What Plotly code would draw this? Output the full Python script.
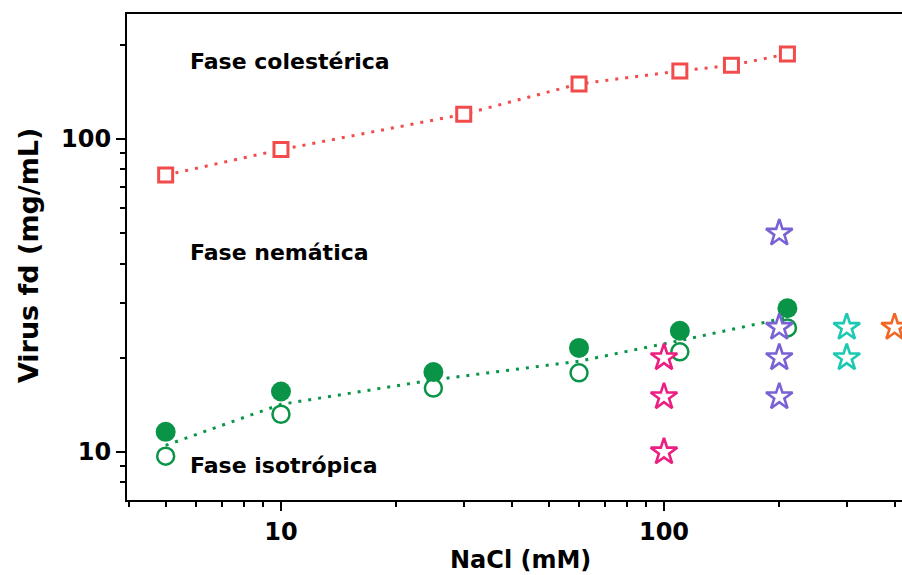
import plotly.graph_objects as go

# ---- data ----
chol_x = [5, 10, 30, 60, 110, 150, 210]
chol_y = [76.7, 92.5, 120, 150, 165, 172, 187]

iso_x = [5, 10, 25, 60, 110, 210]
iso_filled_y = [11.6, 15.6, 18.0, 21.5, 24.4, 28.8]
iso_open_y = [9.7, 13.2, 16.0, 17.9, 20.9, 24.9]
iso_mid_y = [10.5, 14.2, 17.0, 19.5, 22.7, 26.9]

pink_x = [100, 100, 100]
pink_y = [20, 15, 10]
purple_x = [200, 200, 200, 200]
purple_y = [50, 25, 20, 15]
cyan_x = [300, 300]
cyan_y = [25, 20]
orange_x = [400]
orange_y = [25]

x_ticks = [10, 100]
x_minor = [4, 5, 6, 7, 8, 9, 20, 30, 40, 50, 60, 70, 80, 90, 200, 300, 400]
y_ticks = [10, 100]
y_minor = [8, 9, 20, 30, 40, 50, 60, 70, 80, 90, 200]

RED = "#F24B4B"
GREEN = "#0A9447"
PINK = "#EC1F80"
PURPLE = "#7A62D4"
CYAN = "#1CC9B2"
ORANGE = "#F26522"
FONT = "DejaVu Sans"

fig = go.Figure()

fig.add_trace(go.Scatter(x=chol_x, y=chol_y, mode="lines+markers", cliponaxis=False,
                         line=dict(color=RED, width=3, dash="3px,7px"),
                         marker=dict(symbol="square", size=14, color="white",
                                     line=dict(color=RED, width=3))))
fig.add_trace(go.Scatter(x=iso_x, y=iso_mid_y, mode="lines", cliponaxis=False,
                         line=dict(color=GREEN, width=3, dash="3px,7px")))
fig.add_trace(go.Scatter(x=iso_x, y=iso_open_y, mode="markers", cliponaxis=False,
                         marker=dict(symbol="circle", size=17, color="white",
                                     line=dict(color=GREEN, width=2.5))))
fig.add_trace(go.Scatter(x=iso_x, y=iso_filled_y, mode="markers", cliponaxis=False,
                         marker=dict(symbol="circle", size=20, color=GREEN,
                                     line=dict(color=GREEN, width=0))))
for xs, ys, c in [(pink_x, pink_y, PINK), (purple_x, purple_y, PURPLE),
                  (cyan_x, cyan_y, CYAN), (orange_x, orange_y, ORANGE)]:
    fig.add_trace(go.Scatter(x=xs, y=ys, mode="markers", cliponaxis=False,
                             marker=dict(symbol="star", size=20, color="white",
                                         line=dict(color=c, width=2.6))))

labels = [("Fase colestérica", 0.903), ("Fase nemática", 0.510), ("Fase isotrópica", 0.070)]
for txt, yy in labels:
    fig.add_annotation(text=txt, xref="paper", yref="paper", x=0.0787, y=yy,
                       xanchor="left", yanchor="middle", showarrow=False,
                       font=dict(family=FONT, size=22, color="black", weight="bold"))

# axis titles
fig.add_annotation(text="NaCl (mM)", xref="paper", yref="paper", x=0.508, y=-0.1235,
                   xanchor="center", yanchor="middle", showarrow=False,
                   font=dict(family=FONT, size=24, color="black", weight="bold"))
fig.add_annotation(text="Virus fd (mg/mL)", xref="paper", yref="paper", x=-0.1277, y=0.504,
                   xanchor="center", yanchor="middle", showarrow=False, textangle=-90,
                   font=dict(family=FONT, size=27, color="black", weight="bold"))

fig.update_layout(
    width=902, height=575,
    margin=dict(l=127, r=0, t=14, b=75),
    paper_bgcolor="white", plot_bgcolor="white",
    showlegend=False,
    font=dict(family=FONT, color="black"),
)
fig.update_xaxes(type="log", range=[0.598, 2.6214], automargin=False,
                 showgrid=False, zeroline=False,
                 showline=True, linecolor="black", linewidth=2, mirror=True,
                 ticks="outside", ticklen=9, tickwidth=2, tickcolor="black",
                 tickvals=x_ticks, ticktext=[str(v) for v in x_ticks],
                 tickfont=dict(family=FONT, size=24, weight="bold"),
                 minor=dict(tickvals=x_minor, ticks="outside", ticklen=5,
                            tickwidth=2, tickcolor="black", showgrid=False))
fig.update_yaxes(type="log", range=[0.8466, 2.3994], automargin=False,
                 showgrid=False, zeroline=False,
                 showline=True, linecolor="black", linewidth=2, mirror=False,
                 ticks="outside", ticklen=9, tickwidth=2, tickcolor="black",
                 tickvals=y_ticks, ticktext=[str(v) for v in y_ticks],
                 tickfont=dict(family=FONT, size=24, weight="bold"),
                 minor=dict(tickvals=y_minor, ticks="outside", ticklen=5,
                            tickwidth=2, tickcolor="black", showgrid=False))

fig.write_html("out.html", config={"displayModeBar": False},
               post_script="document.body.style.margin='0';document.body.style.overflow='hidden';")
